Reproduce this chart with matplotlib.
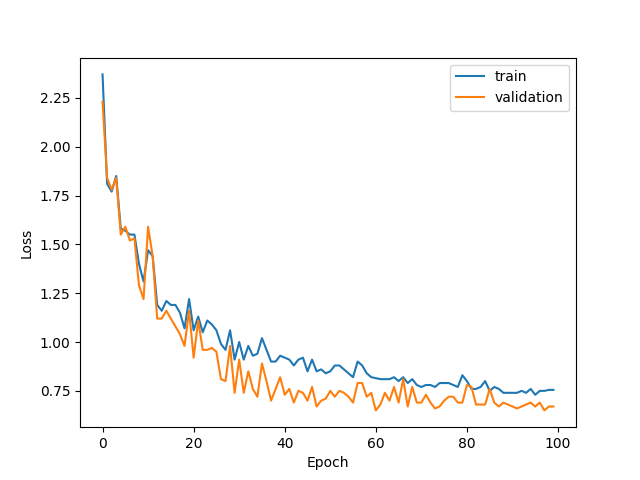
import numpy as np
import matplotlib
matplotlib.use("Agg")
import matplotlib.pyplot as plt

train_loss = [2.37, 1.81, 1.77, 1.85, 1.58, 1.57, 1.55, 1.55, 1.40, 1.31,
              1.47, 1.44, 1.19, 1.16, 1.21, 1.19, 1.19, 1.15, 1.07, 1.22,
              1.06, 1.13, 1.05, 1.11, 1.09, 1.06, 0.99, 0.96, 1.06, 0.91,
              1.00, 0.91, 0.98, 0.93, 0.94, 1.02, 0.96, 0.90, 0.90, 0.93,
              0.92, 0.91, 0.88, 0.91, 0.92, 0.85, 0.91, 0.85, 0.86, 0.84,
              0.85, 0.88, 0.88, 0.86, 0.84, 0.82, 0.90, 0.88, 0.84, 0.82,
              0.815, 0.81, 0.81, 0.81, 0.82, 0.80, 0.82, 0.79, 0.81, 0.78,
              0.77, 0.78, 0.78, 0.77, 0.79, 0.79, 0.79, 0.78, 0.77, 0.83,
              0.80, 0.76, 0.76, 0.77, 0.80, 0.75, 0.77, 0.76, 0.74, 0.74,
              0.74, 0.74, 0.75, 0.74, 0.76, 0.73, 0.75, 0.75, 0.755, 0.755]

val_loss = [2.23, 1.84, 1.78, 1.84, 1.55, 1.59, 1.52, 1.53, 1.29, 1.22,
            1.59, 1.44, 1.12, 1.12, 1.16, 1.12, 1.08, 1.04, 0.98, 1.16,
            0.92, 1.11, 0.96, 0.96, 0.97, 0.95, 0.81, 0.80, 0.98, 0.74,
            0.91, 0.74, 0.85, 0.76, 0.72, 0.89, 0.80, 0.70, 0.76, 0.82,
            0.73, 0.76, 0.69, 0.75, 0.74, 0.70, 0.77, 0.67, 0.70, 0.71,
            0.75, 0.72, 0.75, 0.74, 0.72, 0.69, 0.79, 0.79, 0.72, 0.74,
            0.65, 0.68, 0.74, 0.70, 0.77, 0.69, 0.81, 0.67, 0.77, 0.69,
            0.69, 0.73, 0.69, 0.66, 0.67, 0.70, 0.72, 0.72, 0.69, 0.69,
            0.78, 0.77, 0.68, 0.68, 0.68, 0.76, 0.69, 0.67, 0.69, 0.68,
            0.67, 0.66, 0.67, 0.68, 0.69, 0.67, 0.69, 0.65, 0.67, 0.67]

plt.plot(train_loss, label="train")
plt.plot(val_loss, label="validation")
plt.xlabel("Epoch")
plt.ylabel("Loss")
plt.legend()
plt.savefig("out.png")
